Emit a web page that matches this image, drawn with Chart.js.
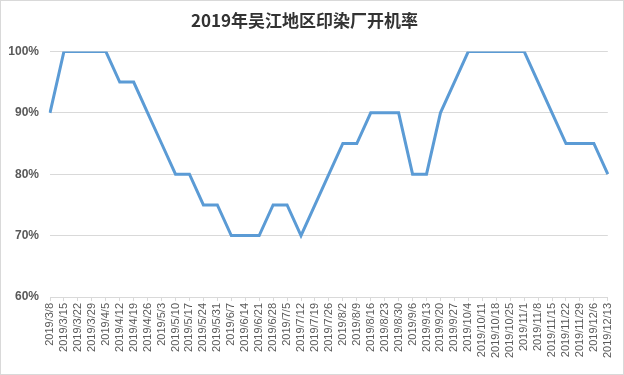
<!DOCTYPE html>
<html lang="zh">
<head>
  <meta charset="UTF-8">
  <title>2019年吴江地区印染厂开机率</title>
  <script src="https://cdn.jsdelivr.net/npm/chart.js"></script>
  <style>
    body { margin: 0; background: #fff; }
    .box { width: 624px; height: 375px; box-sizing: border-box; border: 1px solid #d9d9d9; }
    canvas { display: block; }
  </style>
</head>
<body>
  <div class="box"><canvas id="rate" width="622" height="373"></canvas></div>

  <script>
    // 日期（周）
    const dates = [
      "2019/3/8", "2019/3/15", "2019/3/22", "2019/3/29", "2019/4/5", "2019/4/12",
      "2019/4/19", "2019/4/26", "2019/5/3", "2019/5/10", "2019/5/17", "2019/5/24",
      "2019/5/31", "2019/6/7", "2019/6/14", "2019/6/21", "2019/6/28", "2019/7/5",
      "2019/7/12", "2019/7/19", "2019/7/26", "2019/8/2", "2019/8/9", "2019/8/16",
      "2019/8/23", "2019/8/30", "2019/9/6", "2019/9/13", "2019/9/20", "2019/9/27",
      "2019/10/4", "2019/10/11", "2019/10/18", "2019/10/25", "2019/11/1", "2019/11/8",
      "2019/11/15", "2019/11/22", "2019/11/29", "2019/12/6", "2019/12/13"
    ];
    // 开机率 %
    const rates = [
      90, 100, 100, 100, 100, 95,
      95, 90, 85, 80, 80, 75,
      75, 70, 70, 70, 75, 75,
      70, 75, 80, 85, 85, 90,
      90, 90, 80, 80, 90, 95,
      100, 100, 100, 100, 100, 95,
      90, 85, 85, 85, 80
    ];
    const yTicks = [60, 70, 80, 90, 100];

    const grey = "#595959";
    const gridColor = "#d9d9d9";

    new Chart(document.getElementById("rate"), {
      type: "line",
      data: {
        labels: dates,
        datasets: [{
          data: rates,
          borderColor: "#5b9bd5",
          borderWidth: 3,
          pointRadius: 0,
          tension: 0,
          borderJoinStyle: "miter"
        }]
      },
      options: {
        responsive: false,
        animation: false,
        layout: { padding: { left: 0, right: 15, top: 0, bottom: 0 } },
        plugins: {
          legend: { display: false },
          tooltip: { enabled: false },
          title: {
            display: true,
            text: "2019年吴江地区印染厂开机率",
            color: "#333",
            font: { family: "'Noto Sans CJK SC', sans-serif", size: 17, weight: "bold" },
            padding: { top: 9, bottom: 21 }
          }
        },
        scales: {
          x: {
            offset: false,
            grid: { drawOnChartArea: false, drawTicks: true, tickLength: 4, color: gridColor },
            border: { color: gridColor },
            ticks: {
              autoSkip: false,
              maxRotation: 90,
              minRotation: 90,
              padding: 2,
              color: grey,
              font: { family: "'Liberation Sans', sans-serif", size: 11 }
            },
            afterFit: s => { s.height = 77; }
          },
          y: {
            min: 60,
            max: 100,
            afterBuildTicks: s => { s.ticks = yTicks.map(v => ({ value: v })); },
            grid: { color: gridColor, drawTicks: false },
            border: { display: false },
            ticks: {
              padding: 11,
              color: grey,
              font: { family: "'Liberation Sans', sans-serif", size: 12, weight: "bold" },
              callback: v => v + "%"
            },
            afterFit: s => { s.width = 49; }
          }
        }
      }
    });
  </script>
</body>
</html>
